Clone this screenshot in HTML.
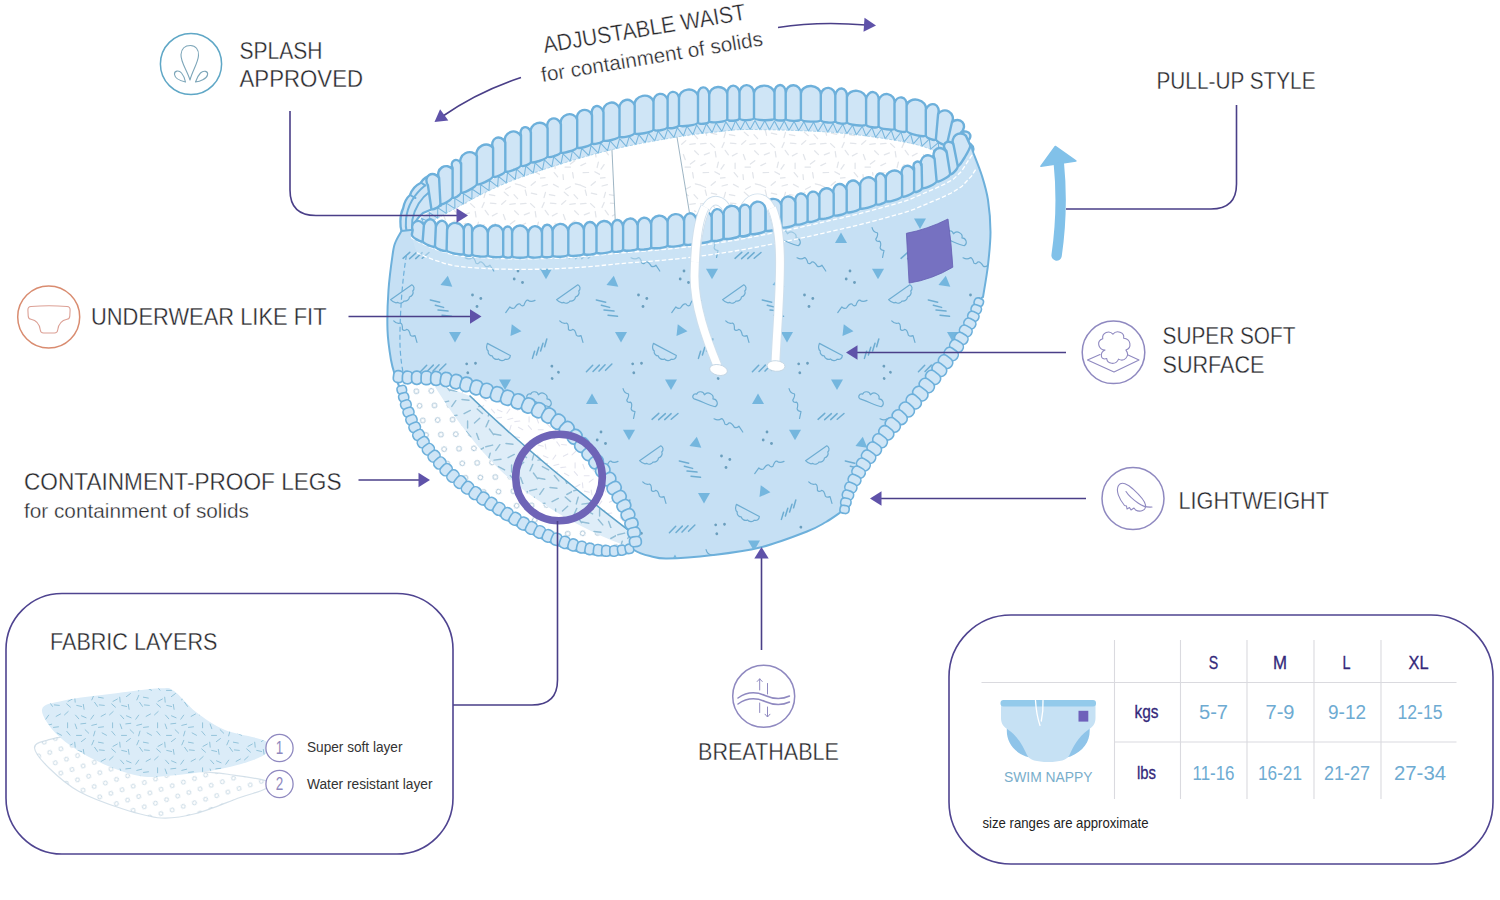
<!DOCTYPE html>
<html lang="en"><head><meta charset="utf-8"><title>Swim nappy features</title>
<style>
html,body{margin:0;padding:0;background:#fff}
body{width:1500px;height:900px;overflow:hidden}
svg{display:block}
text{font-family:"Liberation Sans",sans-serif}
</style></head><body>
<svg width="1500" height="900" viewBox="0 0 1500 900">
<defs>
<clipPath id="cb"><path d="M401.5,231C400.6,232.7 397.4,237.5 396,241C394.6,244.5 394.2,243.8 393,252C391.8,260.2 389.4,277 388.5,290C387.6,303 387.1,318.3 387.5,330C387.9,341.7 389.7,352.2 391,360C392.3,367.8 394.8,374.2 395.5,377C396.2,379.8 399.5,386.8 402,394C404.5,401.2 406.5,411.2 410,420C413.5,428.8 417.2,438.2 423,447C428.8,455.8 436,464.2 445,473C454,481.8 464.7,491 477,500C489.3,509 505.7,519.5 519,527C532.3,534.5 544,540.3 557,545C570,549.7 585.8,553.5 597,555C608.2,556.5 617.8,554.8 624,554C630.2,553.2 632.3,550.7 634,550C636.7,551.8 644.5,554.8 650,556C655.5,557.2 656.5,558.7 667,558.5C677.5,558.3 697.5,556.8 713,555C728.5,553.2 744.3,551.4 760,547.5C775.7,543.6 796,535.8 807,531.5C818,527.2 820.3,525.2 826,522C831.7,518.8 838.5,513.7 841,512C841.2,510 841.3,504.3 842.5,500C843.7,495.7 845.9,490.7 848,486C850.1,481.3 851.7,477.8 855,472C858.3,466.2 862.7,458.7 868,451C873.3,443.3 880.1,434.3 887,426C893.9,417.7 902,409.8 909.5,401C917,392.2 925.1,382.2 932,373.5C938.9,364.8 945.2,357.2 951,348.5C956.8,339.8 962.8,328.6 967,321C971.2,313.4 973.3,307 976,303C978.7,299 981.8,298 983,297C983.8,291.7 986.8,275.8 988,265C989.2,254.2 990.5,242.8 990.5,232C990.5,221.2 989.4,209.3 988,200C986.6,190.7 984.5,184 982,176C979.5,168 974.5,156 973,152L967,138C965,140.4 959.6,148 955.2,152.4C950.8,156.8 945.9,161 940.6,164.6C935.4,168.1 929.4,170.9 923.7,173.7C917.9,176.5 911.9,179.1 905.9,181.3C899.9,183.5 893.7,185.2 887.5,187C881.3,188.8 875.1,190.4 868.9,192.1C862.6,193.8 856.4,195.5 850.2,197.1C844,198.8 837.7,200.4 831.5,201.9C825.2,203.4 819,204.9 812.7,206.4C806.4,207.8 800.1,209.2 793.8,210.6C787.5,211.9 781.2,213.2 774.9,214.5C768.6,215.7 762.3,216.9 756,218.1C749.6,219.3 743.3,220.4 736.9,221.5C730.6,222.6 724.3,223.8 717.9,224.8C711.5,225.8 705.2,226.7 698.8,227.6C692.4,228.5 686,229.3 679.6,230C673.2,230.8 666.8,231.4 660.4,232C654,232.7 647.6,233.2 641.2,233.8C634.8,234.4 628.4,235 621.9,235.6C615.5,236.2 609.1,236.8 602.7,237.4C596.3,238 589.9,238.5 583.5,239C577,239.5 570.6,239.9 564.2,240.3C557.8,240.7 551.3,241.1 544.9,241.3C538.5,241.6 532,241.7 525.6,241.8C519.2,241.9 512.7,241.9 506.3,241.8C499.8,241.7 493.4,241.4 487,241.2C480.5,240.9 474.1,240.8 467.7,240.2C461.3,239.5 454.9,238.8 448.6,237.5C442.3,236.1 436.1,233.4 430.1,232.1C424.1,230.8 415.6,230.1 412.8,229.8Z"/></clipPath>
<pattern id="sp1" width="60" height="60" patternUnits="userSpaceOnUse"><path d="M7.4,4.7l-5.3,1.3M5.5,12.4l-1.5,5.3M4.2,22.5l-2.2,5M5.2,30.3l3.2,4.5M4.1,44.6l-3.1,4.5M5,57.6l-5.5,0.6M13.5,4.4l4.8,2.6M9.4,14.7l5.4,1M10.4,23.2l5.5,0.5M17.2,33.3l-4.8,2.6M15.1,43.1l0,5.5M14.2,52.6l3.5,4.2M30.4,6.7l-4.8,2.6M24.2,12.1l4.1,3.6M25.8,20.6l-4.1,3.7M23.4,34.5l1.9,5.2M25,47.1l5.5,0M23,54.7l0.5,5.5M35.2,3.8l5.4,1.3M34,14.6l3.6,4.1M35.3,23.7l-5.5,0.6M34.6,30.8l3.9,3.8M34.8,40.7l-4.4,3.3M32.6,52.6l0.9,5.4M40.6,5.3l5,2.2M45.2,10l1.4,5.3M46,23.4l-5.5,0.5M49.4,32.9l-5.1,1.9M45.7,43.2l-4.9,2.4M48.6,52.5l-5.5,0.2M55.4,1.7l-4.2,3.6M51.3,13.1l5.4,1.3M50.6,23.6l4,3.8M55.2,31.5l0.8,5.4M58.4,42.2l-1.3,5.3M54.8,51.8l4.9,2.6" fill="none" stroke="#e2e5ea" stroke-width="1.25" stroke-linecap="round"/></pattern>
<clipPath id="ci"><path d="M412.5,237L416.6,223.1L427.2,213L440.1,206L452.9,198.8L465.8,191.8L478.8,185L492.1,178.7L505.6,172.9L519.4,167.7L533.3,162.9L547.2,158.3L561.3,153.9L575.3,149.6L589.4,145.6L603.7,141.8L618,138.5L632.4,135.5L646.8,132.7L661.2,130L675.7,127.5L690.3,125.4L704.8,123.6L719.5,122.1L734.1,120.5L748.8,120L763.5,120.1L778.1,120.4L792.8,120.9L807.5,121.4L822.2,122.1L836.9,123.2L851.5,124.6L866.1,126.4L880.6,128.4L895.2,130.7L909.6,133.3L923.9,136.8L937.7,141.9L950.5,148.9L960,160L963,129L952.4,137.2L942.4,147.1L929.9,153.9L917.6,161.1L904.7,167L891,171L877.2,174.6L863.4,178.1L849.7,181.8L835.9,185.5L822.1,188.9L808.2,192.2L794.3,195.2L780.3,198L766.3,200.7L752.3,203L738.2,205.3L724.2,207.7L710.1,210L696,212L681.9,213.8L667.7,215.3L653.5,216.7L639.3,218.1L625.2,219.5L611,220.9L596.8,221.9L582.6,222.8L568.4,223.8L554.1,224.8L539.9,225.5L525.7,225.9L511.4,226L497.2,225.7L482.9,225.3L468.7,224.6L454.5,223.4L440.5,221.1L426.6,217.9L414,223Z"/></clipPath>
<polygon id="tr" points="0,-5.9 6,4.5 -6,4.5" fill="#74b6de"/>
<path id="wg" d="M-13,-4L13,-4C14.2,-1.5 13,1.2 10.2,1.6C9.8,4.2 6.6,5.6 4,4.6C2.6,6.8 -1.2,6.8 -2.8,4.8C-5,6 -8.2,4.6 -8.6,2.4C-10.8,2 -12.6,-1 -13,-4Z" fill="none" stroke="#6eadd2" stroke-width="1.2" stroke-linejoin="round"/>
<path id="cl" d="M-11.5,4.6C-14.6,4.4 -14.4,-0.6 -10.6,-0.8C-10.8,-4.6 -5.2,-5.8 -3.2,-2.8C-1.4,-7.6 6,-6.6 6.2,-1.8C10,-3.2 13.8,1.2 11,4.8C6,5.6 -6,4.2 -11.5,4.6Z" fill="none" stroke="#6eadd2" stroke-width="1.2" stroke-linejoin="round"/>
<path id="sq" d="M-15,6L-10.5,0.6Q-8.2,3 -6,2Q-2.4,-2.8 -0.2,-1.6Q1.4,1.4 3.6,0Q5.8,-5.4 7.8,-5Q10.5,-2.2 15,-4.2" fill="none" stroke="#6eadd2" stroke-width="1.2" stroke-linejoin="round" stroke-linecap="round"/>
<path id="hx" d="M-7.6,9.4L-5.4,2.2M-3.6,6L-1.2,-1.8M0.6,2L3,-5.8M4.6,-2.2L6.8,-10" fill="none" stroke="#6eadd2" stroke-width="1.5" stroke-linecap="round"/>
<path id="hz" d="M-13.5,3L-6,-2M-7,4.2L0.5,-0.8M-1,5L6.2,0M5.5,5.6L13,0.8" fill="none" stroke="#6eadd2" stroke-width="1.5" stroke-linecap="round"/>
<path id="hy" d="M-10.7,-8L-1.3,-5.8M-5.7,-2.8L2.6,-0.6M-3,2L7,3.1M1,7.2L10.5,8.3" fill="none" stroke="#6eadd2" stroke-width="1.5" stroke-linecap="round"/>
<g id="dt" fill="#6a9ebd"><circle cx="0.5" cy="-5.5" r="1.4"/><circle cx="-3.3" cy="2.5" r="1.4"/><circle cx="5" cy="6" r="1.4"/></g>
<clipPath id="cl1"><path d="M394,376L402,377.2L410,377.6L418.1,377.7L426.1,377.8L434.2,378.2L442.2,378.7L450.2,380.1L458,382L465.8,384.2L473.5,386.6L481.2,389L488.9,391.5L496.5,394L504.2,396.5L511.8,399.2L519.4,401.9L526.9,404.8L534.3,408L541.5,411.5L548.6,415.4L555.4,419.7L561.9,424.5L567.9,429.8L573.6,435.6L579,441.5L584.4,447.6L589.6,453.7L594.8,459.9L599.7,466.3L604.5,472.8L609,479.5L613.2,486.3L617.2,493.3L621.1,500.4L624.8,507.6L628.2,514.9L631.2,522.4L633.6,530.1L635,538L636,546L633,548L625.5,549.6L618,550.8L610.3,551L602.7,550.7L595.1,549.9L587.5,548.5L580.1,546.8L572.7,544.8L565.4,542.6L558.2,540.1L551.1,537.2L544.1,534.1L537.1,530.8L530.3,527.4L523.6,523.8L516.9,520L510.4,516L503.9,512L497.4,507.9L491,503.7L484.6,499.5L478.3,495.2L471.9,490.9L465.7,486.4L459.7,481.7L453.8,476.8L448.2,471.7L442.8,466.2L437.6,460.6L432.7,454.7L427.9,448.7L423.4,442.5L419.3,436.1L415.6,429.4L412.4,422.4L409.7,415.3L407.1,408.1L404.7,400.9L402.7,393.5L401,386Z"/></clipPath>
<pattern id="circ" width="23" height="19" patternUnits="userSpaceOnUse" patternTransform="rotate(38)"><g fill="none" stroke="#a3c0d4" stroke-width="0.95"><circle cx="5.5" cy="4.5" r="2.4"/><circle cx="17" cy="14" r="2.4"/></g></pattern>
<pattern id="sp2" width="44" height="44" patternUnits="userSpaceOnUse"><path d="M8.6,5.1l-6.8,1.7M6.2,13.2l-1.9,6.7M4.8,24.4l-2.8,6.4M5.4,33l4.1,5.7M15.8,4.7l-4,5.7M17,19.3l-7,0.8M14.4,26.6l6.2,3.3M9.9,38l6.9,1.3M22,3.5l7,0.7M30.3,14.4l-6.2,3.3M27.6,24.9l0,7M26.3,35.5l4.5,5.4M44.9,7.1l-6.1,3.4M37.2,13l5.3,4.6M39.7,22.3l-5.2,4.7M36.6,37.5l2.4,6.6" fill="none" stroke="#93bed6" stroke-width="1.45" stroke-linecap="round"/></pattern>
<pattern id="sp3" width="46" height="46" patternUnits="userSpaceOnUse"><path d="M6.8,4.3l-4.9,1.2M5.1,11.4l-1.4,4.8M3.9,20.8l-2,4.6M4.8,27.9l2.9,4.1M3.8,41.1l-2.9,4.1M13.8,7l-5,0.6M12.4,13.3l4.4,2.4M8.7,22.7l4.9,0.9M9.6,30.5l5,0.5M15.8,39.9l-4.4,2.4M23.1,2.9l0,5M22.3,11.6l3.2,3.8M27.9,24.5l-4.4,2.4M22.3,29.5l3.8,3.3M23.7,37.4l-3.7,3.4M30.8,4.2l1.7,4.7M32.2,15.7l5,0M30.4,22.8l0.5,5M32.4,31.1l4.9,1.1M31.3,41.1l3.3,3.7M41.6,3.4l-5,0.6M41,9.9l3.6,3.5M41.2,19.1l-4,3M39.2,30.1l0.8,4.9M37.4,41.7l4.6,2" fill="none" stroke="#e3e4ee" stroke-width="1.1" stroke-linecap="round"/></pattern>
<pattern id="circ2" width="18" height="15" patternUnits="userSpaceOnUse" patternTransform="rotate(22)"><g fill="none" stroke="#c3d6e2" stroke-width="0.9"><circle cx="4" cy="4" r="2"/><circle cx="13" cy="11.5" r="2"/></g></pattern>
<pattern id="sp4" width="45" height="45" patternUnits="userSpaceOnUse"><path d="M6.7,4.2l-4.9,1.2M5,11.1l-1.4,4.8M3.8,20.3l-2,4.6M4.6,27.3l2.9,4.1M3.7,40.1l-2.9,4.1M13.5,6.8l-5,0.6M12.1,12.9l4.4,2.4M8.4,22.2l4.9,0.9M9.3,29.9l5,0.5M15.5,39l-4.4,2.4M22.6,2.8l0,5M21.8,11.4l3.2,3.8M27.4,24l-4.4,2.4M21.7,28.9l3.8,3.3M23.2,36.5l-3.7,3.4M30.1,4l1.7,4.7M31.5,15.4l5,0M29.7,22.2l0.5,5M31.7,30.4l4.9,1.1M30.5,40.1l3.3,3.7M40.8,3.3l-5,0.6M40.1,9.7l3.6,3.5M40.4,18.6l-4,3M38.3,29.4l0.8,4.9M36.5,40.8l4.6,2" fill="none" stroke="#93c3da" stroke-width="1.0" stroke-linecap="round"/></pattern>
</defs>
<g clip-path="url(#ci)">
<rect x="400" y="110" width="580" height="125" fill="url(#sp1)"/>
<path d="M611.5,140L615.5,226L690,216L675.5,128Z" fill="#fff"/>
<path d="M611.5,140L615.5,226M675.5,128L690,216" fill="none" stroke="#93adbd" stroke-width="0.9"/>
</g>
<path d="M415.6,225.8L418.1,221.7L421.3,218.1L425,215.1L429.1,212.5L433.4,210.1L437.7,207.8L442,205.5L446.3,203.1L450.5,200.7L454.8,198.4L459.1,196L463.4,193.6L467.7,191.3L472,189L476.3,186.8L480.7,184.6L485.1,182.4L489.5,180.4L494,178.4L498.4,176.4L503,174.5L507.5,172.7L512,171L516.6,169.2L521.2,167.6L525.8,166L530.4,164.4L535.1,162.8L539.7,161.3L544.4,159.8L549,158.3L553.7,156.8L558.3,155.3L563,153.8L567.7,152.4L572.4,151L577,149.6L581.7,148.3L586.4,146.9L591.1,145.6L595.9,144.4L600.6,143.1L605.3,141.9L610.1,140.8L614.8,139.7L619.6,138.6L624.4,137.6L629.2,136.6L634,135.6L638.8,134.7L643.6,133.8L648.4,132.9L653.2,132L658,131.1L662.8,130.3L667.6,129.4L672.4,128.6L677.3,127.8L682.1,127L686.9,126.3L691.8,125.7L696.6,125L701.5,124.5L706.3,123.9L711.2,123.4L716,122.9L720.9,122.4L725.8,121.9L730.6,121.3L735.5,120.9L740.3,120.6L745.2,120.5L750.1,120.5L755,120.5L759.9,120.6L764.8,120.7L769.7,120.7L774.5,120.9L779.4,121L784.3,121.1L789.2,121.2L794.1,121.4L799,121.6L803.9,121.8L808.7,122L813.6,122.2L818.5,122.4L823.4,122.7L828.3,123L833.1,123.4L838,123.8L842.9,124.2L847.7,124.7L852.6,125.2L857.4,125.8L862.3,126.4L867.1,127L872,127.7L876.8,128.3L881.7,129L886.5,129.8L891.3,130.5L896.2,131.3L901,132.2L905.8,133L910.6,134L915.3,135L920,136.2L924.7,137.6L929.3,139.1L933.9,140.9L938.4,142.7L942.8,144.7L947.1,147.1L951,149.9L954.5,153.2L947.6,159L945.4,156.9L942.3,154.7L938.8,152.8L934.9,151L930.6,149.2L926.3,147.6L922,146.2L917.7,144.9L913.3,143.8L908.7,142.8L904.1,141.9L899.4,141L894.7,140.2L889.9,139.4L885.1,138.7L880.4,137.9L875.6,137.2L870.8,136.6L866,135.9L861.2,135.3L856.4,134.7L851.6,134.2L846.8,133.6L842,133.2L837.2,132.7L832.5,132.3L827.7,132L822.8,131.7L818,131.4L813.2,131.2L808.4,130.9L803.5,130.8L798.7,130.6L793.8,130.4L788.9,130.2L784.1,130.1L779.2,130L774.3,129.8L769.5,129.7L764.6,129.7L759.8,129.6L754.9,129.5L750.1,129.5L745.3,129.5L740.6,129.6L736.1,129.8L731.6,130.2L726.8,130.8L721.9,131.4L717,131.9L712.1,132.4L707.3,132.9L702.5,133.4L697.7,134L692.9,134.6L688.2,135.2L683.4,135.9L678.7,136.7L673.9,137.5L669.2,138.3L664.4,139.1L659.6,140L654.8,140.8L650,141.7L645.2,142.6L640.5,143.5L635.7,144.5L631,145.4L626.3,146.4L621.5,147.4L616.8,148.5L612.1,149.6L607.5,150.7L602.8,151.8L598.2,153.1L593.5,154.3L588.9,155.6L584.2,156.9L579.6,158.3L574.9,159.6L570.3,161L565.6,162.4L561,163.9L556.4,165.3L551.8,166.8L547.2,168.3L542.5,169.8L537.9,171.4L533.3,172.9L528.8,174.5L524.2,176.1L519.7,177.7L515.2,179.4L510.8,181.1L506.4,182.9L502,184.7L497.6,186.6L493.3,188.6L489,190.6L484.7,192.6L480.4,194.8L476.2,197L471.9,199.3L467.7,201.6L463.4,203.9L459.2,206.2L454.9,208.6L450.6,211L446.3,213.4L442,215.7L437.7,218.1L433.6,220.3L430.3,222.4L427.5,224.7L425.4,227L423.7,229.8Z" fill="#cfe5f6"/>
<path d="M415.6,225.8L425.4,227L421.3,218.1L430.3,222.4L429.1,212.5L437.7,218.1L437.7,207.8L446.3,213.4L446.3,203.1L454.9,208.6L454.8,198.4L463.4,203.9L463.4,193.6L471.9,199.3L472,189L480.4,194.8L480.7,184.6L489,190.6L489.5,180.4L497.6,186.6L498.4,176.4L506.4,182.9L507.5,172.7L515.2,179.4L516.6,169.2L524.2,176.1L525.8,166L533.3,172.9L535.1,162.8L542.5,169.8L544.4,159.8L551.8,166.8L553.7,156.8L561,163.9L563,153.8L570.3,161L572.4,151L579.6,158.3L581.7,148.3L588.9,155.6L591.1,145.6L598.2,153.1L600.6,143.1L607.5,150.7L610.1,140.8L616.8,148.5L619.6,138.6L626.3,146.4L629.2,136.6L635.7,144.5L638.8,134.7L645.2,142.6L648.4,132.9L654.8,140.8L658,131.1L664.4,139.1L667.6,129.4L673.9,137.5L677.3,127.8L683.4,135.9L686.9,126.3L692.9,134.6L696.6,125L702.5,133.4L706.3,123.9L712.1,132.4L716,122.9L721.9,131.4L725.8,121.9L731.6,130.2L735.5,120.9L740.6,129.6L745.2,120.5L750.1,129.5L755,120.5L759.8,129.6L764.8,120.7L769.5,129.7L774.5,120.9L779.2,130L784.3,121.1L788.9,130.2L794.1,121.4L798.7,130.6L803.9,121.8L808.4,130.9L813.6,122.2L818,131.4L823.4,122.7L827.7,132L833.1,123.4L837.2,132.7L842.9,124.2L846.8,133.6L852.6,125.2L856.4,134.7L862.3,126.4L866,135.9L872,127.7L875.6,137.2L881.7,129L885.1,138.7L891.3,130.5L894.7,140.2L901,132.2L904.1,141.9L910.6,134L913.3,143.8L920,136.2L922,146.2L929.3,139.1L930.6,149.2L938.4,142.7L938.8,152.8L947.1,147.1L945.4,156.9L954.5,153.2" fill="none" stroke="#78b6dd" stroke-width="1.05" stroke-linejoin="round"/>
<path d="M423.7,229.8L425.4,227L427.5,224.7L430.3,222.4L433.6,220.3L437.7,218.1L442,215.7L446.3,213.4L450.6,211L454.9,208.6L459.2,206.2L463.4,203.9L467.7,201.6L471.9,199.3L476.2,197L480.4,194.8L484.7,192.6L489,190.6L493.3,188.6L497.6,186.6L502,184.7L506.4,182.9L510.8,181.1L515.2,179.4L519.7,177.7L524.2,176.1L528.8,174.5L533.3,172.9L537.9,171.4L542.5,169.8L547.2,168.3L551.8,166.8L556.4,165.3L561,163.9L565.6,162.4L570.3,161L574.9,159.6L579.6,158.3L584.2,156.9L588.9,155.6L593.5,154.3L598.2,153.1L602.8,151.8L607.5,150.7L612.1,149.6L616.8,148.5L621.5,147.4L626.3,146.4L631,145.4L635.7,144.5L640.5,143.5L645.2,142.6L650,141.7L654.8,140.8L659.6,140L664.4,139.1L669.2,138.3L673.9,137.5L678.7,136.7L683.4,135.9L688.2,135.2L692.9,134.6L697.7,134L702.5,133.4L707.3,132.9L712.1,132.4L717,131.9L721.9,131.4L726.8,130.8L731.6,130.2L736.1,129.8L740.6,129.6L745.3,129.5L750.1,129.5L754.9,129.5L759.8,129.6L764.6,129.7L769.5,129.7L774.3,129.8L779.2,130L784.1,130.1L788.9,130.2L793.8,130.4L798.7,130.6L803.5,130.8L808.4,130.9L813.2,131.2L818,131.4L822.8,131.7L827.7,132L832.5,132.3L837.2,132.7L842,133.2L846.8,133.6L851.6,134.2L856.4,134.7L861.2,135.3L866,135.9L870.8,136.6L875.6,137.2L880.4,137.9L885.1,138.7L889.9,139.4L894.7,140.2L899.4,141L904.1,141.9L908.7,142.8L913.3,143.8L917.7,144.9L922,146.2L926.3,147.6L930.6,149.2L934.9,151L938.8,152.8L942.3,154.7L945.4,156.9L947.6,159" fill="none" stroke="#9ccbe8" stroke-width="0.8" stroke-dasharray="3 1.5"/>
<path d="M432,175Q424.5,176.5 420.5,183Q413,186.5 410,195Q404.8,199.5 403.2,208Q400.3,214 400.4,221.5Q400.2,227.5 401.8,232L413,238C411,229 415,220 423,213L441,205.5Z" fill="#cfe5f6" stroke="#6db0db" stroke-width="2.3" stroke-linejoin="round"/>
<path d="M425,185.5C414.5,194 407.5,206 406,219C405.4,225 406,230 407,234M430.5,191C421,198 414.5,208.5 412.3,220C411.6,226 412,231.5 413,237M421,182.5C423,184 424.5,185 425.5,185.5M410.3,195C412.5,196.5 414,197.5 415.5,198" fill="none" stroke="#6db0db" stroke-width="2" stroke-linecap="round"/>
<path d="M436.1,208.1Q431.6,210.5 431.3,208.4L427.9,185.2A6.7 7.9 -33.5 0 1 439.1,177.8L440.4,203.5Q440.6,205.7 436.1,208.1M446.6,202.3Q440.6,205.7 440.4,203.5L439.1,177.8A8 7.9 -31.9 0 1 452.6,169.3L452.6,196.8Q452.6,199 446.6,202.3M456.9,196.7Q452.6,199 452.6,196.8L452.6,167.9A4.9 6.4 -29.5 0 1 461.1,163.1L461.1,192.1Q461.1,194.3 456.9,196.7M469,190.1Q461.1,194.3 461.1,192.1L461.1,164.5A8.9 7.9 -28 0 1 476.9,156.1L476.9,183.7Q476.9,185.9 469,190.1M485,182.1Q476.9,185.9 476.9,183.7L476.9,156.1A9.1 7.9 -26.6 0 1 493.1,148L493.1,176Q493.1,178.2 485,182.1M499.2,175.6Q493.1,178.2 493.1,176L493.1,148A6.7 7.9 -24.5 0 1 505.3,142.4L505.3,170.8Q505.3,173 499.2,175.6M513.2,170.1Q505.3,173 505.3,170.8L505.3,142.4A8.4 7.9 -21.1 0 1 521,136.4L521,164.9Q521,167.1 513.2,170.1M525.9,165.4Q521,167.1 521,164.9L521,135.4A5.2 6.8 -18 0 1 530.9,132.2L530.9,161.5Q530.9,163.7 525.9,165.4M539.2,161Q530.9,163.7 530.9,161.5L530.9,133.2A8.7 7.9 -16.4 0 1 547.6,128.3L547.6,156Q547.6,158.2 539.2,161M554.2,156.1Q547.6,158.2 547.6,156L547.6,128.3A6.9 7.9 -16.5 0 1 560.9,124.3L560.9,151.8Q560.9,154 554.2,156.1M569,151.5Q560.9,154 560.9,151.8L560.9,124.3A8.5 7.9 -16.5 0 1 577.2,119.5L577.2,146.9Q577.2,149.1 569,151.5M584.6,147Q577.2,149.1 577.2,146.9L577.2,119.5A7.7 7.9 -15.7 0 1 592,115.3L592,142.7Q592,144.9 584.6,147M597.7,143.4Q592,144.9 592,142.7L592,115.2A5.9 7.7 -14.5 0 1 603.5,112.2L603.5,139.7Q603.5,141.9 597.7,143.4M611.5,140Q603.5,141.9 603.5,139.7L603.5,112.4A8.2 7.9 -13.3 0 1 619.5,108.6L619.5,136Q619.5,138.2 611.5,140M627.1,136.6Q619.5,138.2 619.5,136L619.5,108.6A7.8 7.9 -12 0 1 634.7,105.4L634.7,132.8Q634.7,135 627.1,136.6M644.1,133.2Q634.7,135 634.7,132.8L634.7,105.4A9.5 7.9 -10.5 0 1 653.5,101.9L653.5,129.2Q653.5,131.4 644.1,133.2M660.6,130.2Q653.5,131.4 653.5,129.2L653.5,101.9A7.2 7.9 -9.2 0 1 667.6,99.6L667.6,126.7Q667.6,128.9 660.6,130.2M673.3,128Q667.6,128.9 667.6,126.7L667.6,99.2A5.8 7.5 -8.2 0 1 679,97.6L679,124.8Q679,127 673.3,128M688.5,125.7Q679,127 679,124.8L679,97.9A9.6 7.9 -6.8 0 1 698,95.7L698,122.2Q698,124.4 688.5,125.7M703.6,123.7Q698,124.4 698,122.2L698,95.1A5.6 7.3 -4.9 0 1 709.2,94.2L709.2,120.9Q709.2,123.1 703.6,123.7M718.2,122.1Q709.2,123.1 709.2,120.9L709.2,94.7A9.1 7.9 -3.2 0 1 727.3,93.7L727.3,119Q727.3,121.2 718.2,122.1M733.4,120.7Q727.3,121.2 727.3,119L727.3,93.7A6.1 7.9 -2 0 1 739.5,93.3L739.5,117.9Q739.5,120.1 733.4,120.7M746.7,120.1Q739.5,120.1 739.5,117.9L739.5,93.3A7.2 7.9 -1.4 0 1 754,92.9L754,117.8Q754,120 746.7,120.1M764.2,120.2Q754,120 754,117.8L754,92.9A10.3 7.9 -0.5 0 1 774.5,92.7L774.5,118.2Q774.5,120.4 764.2,120.2M780.1,120.5Q774.5,120.4 774.5,118.2L774.5,92.2A5.6 7.3 0.7 0 1 785.7,92.3L785.7,118.4Q785.7,120.6 780.1,120.5M793.3,120.9Q785.7,120.6 785.7,118.4L785.7,92.9A7.6 7.9 1.8 0 1 800.9,93.4L800.9,118.9Q800.9,121.1 793.3,120.9M810.8,121.6Q800.9,121.1 800.9,118.9L800.9,93.4A9.9 7.9 3.4 0 1 820.8,94.5L820.8,119.8Q820.8,122 810.8,121.6M828,122.5Q820.8,122 820.8,119.8L820.8,94.5A7.3 7.9 4.8 0 1 835.3,95.8L835.3,120.8Q835.3,123 828,122.5M841.1,123.6Q835.3,123 835.3,120.8L835.3,95.5A5.8 7.6 5.6 0 1 846.9,96.6L846.9,121.9Q846.9,124.1 841.1,123.6M856.5,125.2Q846.9,124.1 846.9,121.9L846.9,96.9A9.7 7.9 6.6 0 1 866.1,99.1L866.1,124.2Q866.1,126.4 856.5,125.2M872.3,127.2Q866.1,126.4 866.1,124.2L866.1,99.1A6.3 7.9 7.6 0 1 878.6,100.8L878.6,125.9Q878.6,128.1 872.3,127.2M886.6,129.3Q878.6,128.1 878.6,125.9L878.6,100.8A8 7.9 8.7 0 1 894.5,103.2L894.5,128.3Q894.5,130.5 886.6,129.3M900.6,131.6Q894.5,130.5 894.5,128.3L894.5,103.2A6.2 7.9 10 0 1 906.6,105.4L906.6,130.5Q906.6,132.7 900.6,131.6M916.2,135.1Q906.6,132.7 906.6,130.5L906.6,105.4A9.8 7.9 12.8 0 1 925.8,109.7L925.8,135.2Q925.8,137.4 916.2,135.1M930.8,139.2Q925.8,137.4 925.8,135.2L925.8,109.7A6.5 7.9 19.5 0 1 938.1,114.1L935.9,138.9Q935.7,141 930.8,139.2M941.1,143.6Q935.7,141 935.9,138.9L938.1,114.1A8 7.9 29.6 0 1 952,122L947,144Q946.5,146.2 941.1,143.6M950.2,148.9Q946.5,146.2 947,144L952,122A6.9 7.9 49.9 0 1 960.9,132.6L954.5,149.6Q953.8,151.7 950.2,148.9M955.6,154Q953.8,151.7 954.5,149.6L961,132.3A5.4 7.5 67.3 0 1 965.2,142.3L958.6,154.5Q957.5,156.4 955.6,154M958.8,158.2Q957.5,156.4 958.6,154.5L965,142.5A6.8 7.9 86.9 0 1 965.8,156.2L961.8,158.8Q960,160 958.8,158.2" fill="#cfe5f6" stroke="#6db0db" stroke-width="2.4" stroke-linejoin="round" stroke-linecap="round"/>
<path d="M401.5,231C400.6,232.7 397.4,237.5 396,241C394.6,244.5 394.2,243.8 393,252C391.8,260.2 389.4,277 388.5,290C387.6,303 387.1,318.3 387.5,330C387.9,341.7 389.7,352.2 391,360C392.3,367.8 394.8,374.2 395.5,377C396.2,379.8 399.5,386.8 402,394C404.5,401.2 406.5,411.2 410,420C413.5,428.8 417.2,438.2 423,447C428.8,455.8 436,464.2 445,473C454,481.8 464.7,491 477,500C489.3,509 505.7,519.5 519,527C532.3,534.5 544,540.3 557,545C570,549.7 585.8,553.5 597,555C608.2,556.5 617.8,554.8 624,554C630.2,553.2 632.3,550.7 634,550C636.7,551.8 644.5,554.8 650,556C655.5,557.2 656.5,558.7 667,558.5C677.5,558.3 697.5,556.8 713,555C728.5,553.2 744.3,551.4 760,547.5C775.7,543.6 796,535.8 807,531.5C818,527.2 820.3,525.2 826,522C831.7,518.8 838.5,513.7 841,512C841.2,510 841.3,504.3 842.5,500C843.7,495.7 845.9,490.7 848,486C850.1,481.3 851.7,477.8 855,472C858.3,466.2 862.7,458.7 868,451C873.3,443.3 880.1,434.3 887,426C893.9,417.7 902,409.8 909.5,401C917,392.2 925.1,382.2 932,373.5C938.9,364.8 945.2,357.2 951,348.5C956.8,339.8 962.8,328.6 967,321C971.2,313.4 973.3,307 976,303C978.7,299 981.8,298 983,297C983.8,291.7 986.8,275.8 988,265C989.2,254.2 990.5,242.8 990.5,232C990.5,221.2 989.4,209.3 988,200C986.6,190.7 984.5,184 982,176C979.5,168 974.5,156 973,152L967,138C965,140.4 959.6,148 955.2,152.4C950.8,156.8 945.9,161 940.6,164.6C935.4,168.1 929.4,170.9 923.7,173.7C917.9,176.5 911.9,179.1 905.9,181.3C899.9,183.5 893.7,185.2 887.5,187C881.3,188.8 875.1,190.4 868.9,192.1C862.6,193.8 856.4,195.5 850.2,197.1C844,198.8 837.7,200.4 831.5,201.9C825.2,203.4 819,204.9 812.7,206.4C806.4,207.8 800.1,209.2 793.8,210.6C787.5,211.9 781.2,213.2 774.9,214.5C768.6,215.7 762.3,216.9 756,218.1C749.6,219.3 743.3,220.4 736.9,221.5C730.6,222.6 724.3,223.8 717.9,224.8C711.5,225.8 705.2,226.7 698.8,227.6C692.4,228.5 686,229.3 679.6,230C673.2,230.8 666.8,231.4 660.4,232C654,232.7 647.6,233.2 641.2,233.8C634.8,234.4 628.4,235 621.9,235.6C615.5,236.2 609.1,236.8 602.7,237.4C596.3,238 589.9,238.5 583.5,239C577,239.5 570.6,239.9 564.2,240.3C557.8,240.7 551.3,241.1 544.9,241.3C538.5,241.6 532,241.7 525.6,241.8C519.2,241.9 512.7,241.9 506.3,241.8C499.8,241.7 493.4,241.4 487,241.2C480.5,240.9 474.1,240.8 467.7,240.2C461.3,239.5 454.9,238.8 448.6,237.5C442.3,236.1 436.1,233.4 430.1,232.1C424.1,230.8 415.6,230.1 412.8,229.8Z" fill="#c6e0f4" stroke="#6db0db" stroke-width="2" stroke-linejoin="round"/>
<g clip-path="url(#cb)">
<use href="#tr" transform="translate(422,223) rotate(180)"/>
<use href="#tr" transform="translate(509,238.5)"/>
<use href="#cl" transform="translate(457.5,237.5) rotate(20)"/>
<use href="#sq" transform="translate(380,242) rotate(52) scale(-1,1)"/>
<use href="#tr" transform="translate(588,223) rotate(180)"/>
<use href="#tr" transform="translate(675,238.5)"/>
<use href="#cl" transform="translate(623.5,237.5) rotate(20)"/>
<use href="#sq" transform="translate(546,242) rotate(52) scale(-1,1)"/>
<use href="#tr" transform="translate(754,223) rotate(180)"/>
<use href="#tr" transform="translate(841,238.5)"/>
<use href="#cl" transform="translate(789.5,237.5) rotate(20)"/>
<use href="#sq" transform="translate(712,242) rotate(52) scale(-1,1)"/>
<use href="#tr" transform="translate(920,223) rotate(180)"/>
<use href="#cl" transform="translate(955.5,237.5) rotate(20)"/>
<use href="#sq" transform="translate(878,242) rotate(52) scale(-1,1)"/>
<use href="#tr" transform="translate(380,273.3) rotate(180)"/>
<use href="#tr" transform="translate(426,399.5)"/>
<use href="#wg" transform="translate(403.5,295.5) rotate(-35)"/>
<use href="#sq" transform="translate(405.7,330.8) rotate(24) scale(-1,1)"/>
<use href="#hz" transform="translate(416,253.5) rotate(-8)"/>
<use href="#dt" transform="translate(388.5,373.5) rotate(200)"/>
<use href="#hz" transform="translate(433,366) rotate(-12)"/>
<use href="#tr" transform="translate(447,281.5) rotate(8)"/>
<use href="#tr" transform="translate(546,273.3) rotate(180)"/>
<use href="#tr" transform="translate(455,336.5) rotate(180)"/>
<use href="#tr" transform="translate(515.6,330.6) rotate(96)"/>
<use href="#tr" transform="translate(505,384) rotate(180)"/>
<use href="#tr" transform="translate(592,399.5)"/>
<use href="#wg" transform="translate(569.5,295.5) rotate(-35)"/>
<use href="#wg" transform="translate(497,353) rotate(28)"/>
<use href="#cl" transform="translate(540.5,398.5) rotate(20)"/>
<use href="#sq" transform="translate(479.5,263.5) rotate(6) scale(-1,1)"/>
<use href="#sq" transform="translate(520.3,305.6) rotate(-4)"/>
<use href="#sq" transform="translate(571.7,330.8) rotate(24) scale(-1,1)"/>
<use href="#sq" transform="translate(463,403) rotate(52) scale(-1,1)"/>
<use href="#hy" transform="translate(441,308)"/>
<use href="#hx" transform="translate(540,349)"/>
<use href="#hz" transform="translate(582,253.5) rotate(-8)"/>
<use href="#dt" transform="translate(517.5,276.5)"/>
<use href="#dt" transform="translate(477.5,301) rotate(180)"/>
<use href="#dt" transform="translate(470.5,365.5) rotate(60)"/>
<use href="#dt" transform="translate(554.5,373.5) rotate(200)"/>
<use href="#hz" transform="translate(599,366) rotate(-12)"/>
<use href="#tr" transform="translate(613,281.5) rotate(8)"/>
<use href="#tr" transform="translate(712,273.3) rotate(180)"/>
<use href="#tr" transform="translate(621,336.5) rotate(180)"/>
<use href="#tr" transform="translate(681.6,330.6) rotate(96)"/>
<use href="#tr" transform="translate(671,384) rotate(180)"/>
<use href="#tr" transform="translate(758,399.5)"/>
<use href="#wg" transform="translate(735.5,295.5) rotate(-35)"/>
<use href="#wg" transform="translate(663,353) rotate(28)"/>
<use href="#cl" transform="translate(706.5,398.5) rotate(20)"/>
<use href="#sq" transform="translate(645.5,263.5) rotate(6) scale(-1,1)"/>
<use href="#sq" transform="translate(686.3,305.6) rotate(-4)"/>
<use href="#sq" transform="translate(737.7,330.8) rotate(24) scale(-1,1)"/>
<use href="#sq" transform="translate(629,403) rotate(52) scale(-1,1)"/>
<use href="#hy" transform="translate(607,308)"/>
<use href="#hx" transform="translate(706,349)"/>
<use href="#hz" transform="translate(748,253.5) rotate(-8)"/>
<use href="#dt" transform="translate(683.5,276.5)"/>
<use href="#dt" transform="translate(643.5,301) rotate(180)"/>
<use href="#dt" transform="translate(636.5,365.5) rotate(60)"/>
<use href="#dt" transform="translate(720.5,373.5) rotate(200)"/>
<use href="#hz" transform="translate(765,366) rotate(-12)"/>
<use href="#tr" transform="translate(779,281.5) rotate(8)"/>
<use href="#tr" transform="translate(878,273.3) rotate(180)"/>
<use href="#tr" transform="translate(787,336.5) rotate(180)"/>
<use href="#tr" transform="translate(847.6,330.6) rotate(96)"/>
<use href="#tr" transform="translate(837,384) rotate(180)"/>
<use href="#tr" transform="translate(924,399.5)"/>
<use href="#wg" transform="translate(901.5,295.5) rotate(-35)"/>
<use href="#wg" transform="translate(829,353) rotate(28)"/>
<use href="#cl" transform="translate(872.5,398.5) rotate(20)"/>
<use href="#sq" transform="translate(811.5,263.5) rotate(6) scale(-1,1)"/>
<use href="#sq" transform="translate(852.3,305.6) rotate(-4)"/>
<use href="#sq" transform="translate(903.7,330.8) rotate(24) scale(-1,1)"/>
<use href="#sq" transform="translate(795,403) rotate(52) scale(-1,1)"/>
<use href="#hy" transform="translate(773,308)"/>
<use href="#hx" transform="translate(872,349)"/>
<use href="#hz" transform="translate(914,253.5) rotate(-8)"/>
<use href="#dt" transform="translate(849.5,276.5)"/>
<use href="#dt" transform="translate(809.5,301) rotate(180)"/>
<use href="#dt" transform="translate(802.5,365.5) rotate(60)"/>
<use href="#dt" transform="translate(886.5,373.5) rotate(200)"/>
<use href="#hz" transform="translate(931,366) rotate(-12)"/>
<use href="#tr" transform="translate(945,281.5) rotate(8)"/>
<use href="#tr" transform="translate(953,336.5) rotate(180)"/>
<use href="#wg" transform="translate(995,353) rotate(28)"/>
<use href="#sq" transform="translate(977.5,263.5) rotate(6) scale(-1,1)"/>
<use href="#sq" transform="translate(961,403) rotate(52) scale(-1,1)"/>
<use href="#hy" transform="translate(939,308)"/>
<use href="#dt" transform="translate(975.5,301) rotate(180)"/>
<use href="#dt" transform="translate(968.5,365.5) rotate(60)"/>
<use href="#tr" transform="translate(463,434.3) rotate(180)"/>
<use href="#tr" transform="translate(432.6,491.6) rotate(96)"/>
<use href="#tr" transform="translate(422,545) rotate(180)"/>
<use href="#tr" transform="translate(509,560.5)"/>
<use href="#wg" transform="translate(486.5,456.5) rotate(-35)"/>
<use href="#wg" transform="translate(414,514) rotate(28)"/>
<use href="#cl" transform="translate(457.5,559.5) rotate(20)"/>
<use href="#sq" transform="translate(396.5,424.5) rotate(6) scale(-1,1)"/>
<use href="#sq" transform="translate(437.3,466.6) rotate(-4)"/>
<use href="#sq" transform="translate(488.7,491.8) rotate(24) scale(-1,1)"/>
<use href="#sq" transform="translate(380,564) rotate(52) scale(-1,1)"/>
<use href="#hx" transform="translate(457,510)"/>
<use href="#hz" transform="translate(499,414.5) rotate(-8)"/>
<use href="#dt" transform="translate(434.5,437.5)"/>
<use href="#dt" transform="translate(394.5,462) rotate(180)"/>
<use href="#dt" transform="translate(387.5,526.5) rotate(60)"/>
<use href="#dt" transform="translate(471.5,534.5) rotate(200)"/>
<use href="#hz" transform="translate(516,527) rotate(-12)"/>
<use href="#tr" transform="translate(530,442.5) rotate(8)"/>
<use href="#tr" transform="translate(629,434.3) rotate(180)"/>
<use href="#tr" transform="translate(538,497.5) rotate(180)"/>
<use href="#tr" transform="translate(598.6,491.6) rotate(96)"/>
<use href="#tr" transform="translate(588,545) rotate(180)"/>
<use href="#tr" transform="translate(675,560.5)"/>
<use href="#wg" transform="translate(652.5,456.5) rotate(-35)"/>
<use href="#wg" transform="translate(580,514) rotate(28)"/>
<use href="#cl" transform="translate(623.5,559.5) rotate(20)"/>
<use href="#sq" transform="translate(562.5,424.5) rotate(6) scale(-1,1)"/>
<use href="#sq" transform="translate(603.3,466.6) rotate(-4)"/>
<use href="#sq" transform="translate(654.7,491.8) rotate(24) scale(-1,1)"/>
<use href="#sq" transform="translate(546,564) rotate(52) scale(-1,1)"/>
<use href="#hy" transform="translate(524,469)"/>
<use href="#hx" transform="translate(623,510)"/>
<use href="#hz" transform="translate(665,414.5) rotate(-8)"/>
<use href="#dt" transform="translate(600.5,437.5)"/>
<use href="#dt" transform="translate(560.5,462) rotate(180)"/>
<use href="#dt" transform="translate(553.5,526.5) rotate(60)"/>
<use href="#dt" transform="translate(637.5,534.5) rotate(200)"/>
<use href="#hz" transform="translate(682,527) rotate(-12)"/>
<use href="#tr" transform="translate(696,442.5) rotate(8)"/>
<use href="#tr" transform="translate(795,434.3) rotate(180)"/>
<use href="#tr" transform="translate(704,497.5) rotate(180)"/>
<use href="#tr" transform="translate(764.6,491.6) rotate(96)"/>
<use href="#tr" transform="translate(754,545) rotate(180)"/>
<use href="#tr" transform="translate(841,560.5)"/>
<use href="#wg" transform="translate(818.5,456.5) rotate(-35)"/>
<use href="#wg" transform="translate(746,514) rotate(28)"/>
<use href="#cl" transform="translate(789.5,559.5) rotate(20)"/>
<use href="#sq" transform="translate(728.5,424.5) rotate(6) scale(-1,1)"/>
<use href="#sq" transform="translate(769.3,466.6) rotate(-4)"/>
<use href="#sq" transform="translate(820.7,491.8) rotate(24) scale(-1,1)"/>
<use href="#sq" transform="translate(712,564) rotate(52) scale(-1,1)"/>
<use href="#hy" transform="translate(690,469)"/>
<use href="#hx" transform="translate(789,510)"/>
<use href="#hz" transform="translate(831,414.5) rotate(-8)"/>
<use href="#dt" transform="translate(766.5,437.5)"/>
<use href="#dt" transform="translate(726.5,462) rotate(180)"/>
<use href="#dt" transform="translate(719.5,526.5) rotate(60)"/>
<use href="#dt" transform="translate(803.5,534.5) rotate(200)"/>
<use href="#hz" transform="translate(848,527) rotate(-12)"/>
<use href="#tr" transform="translate(862,442.5) rotate(8)"/>
<use href="#tr" transform="translate(961,434.3) rotate(180)"/>
<use href="#tr" transform="translate(870,497.5) rotate(180)"/>
<use href="#tr" transform="translate(930.6,491.6) rotate(96)"/>
<use href="#tr" transform="translate(920,545) rotate(180)"/>
<use href="#wg" transform="translate(984.5,456.5) rotate(-35)"/>
<use href="#wg" transform="translate(912,514) rotate(28)"/>
<use href="#cl" transform="translate(955.5,559.5) rotate(20)"/>
<use href="#sq" transform="translate(894.5,424.5) rotate(6) scale(-1,1)"/>
<use href="#sq" transform="translate(935.3,466.6) rotate(-4)"/>
<use href="#sq" transform="translate(986.7,491.8) rotate(24) scale(-1,1)"/>
<use href="#sq" transform="translate(878,564) rotate(52) scale(-1,1)"/>
<use href="#hy" transform="translate(856,469)"/>
<use href="#hx" transform="translate(955,510)"/>
<use href="#hz" transform="translate(997,414.5) rotate(-8)"/>
<use href="#dt" transform="translate(932.5,437.5)"/>
<use href="#dt" transform="translate(892.5,462) rotate(180)"/>
<use href="#dt" transform="translate(885.5,526.5) rotate(60)"/>
<use href="#dt" transform="translate(969.5,534.5) rotate(200)"/>
<path d="M411.5,236.5L420,241.5L428.9,245.6L438,249.1L447.4,252.2L456.9,254.5L466.6,255.7L476.4,256.3L486.2,256.9L496.1,257.4L505.9,257.6L515.7,257.7L525.5,257.7L535.3,257.6L545.2,257.4L555,257L564.8,256.5L574.6,255.9L584.4,255.1L594.1,254.2L603.9,253.2L613.7,252.1L623.4,251.2L633.2,250.4L643,249.6L652.8,248.7L662.6,247.8L672.4,246.8L682.1,245.8L691.9,244.5L701.6,243.2L711.3,241.8L721,240.3L730.7,238.7L740.4,236.9L750,235.1L759.6,233.1L769.2,231.2L778.9,229.1L788.5,227.1L798,224.9L807.6,222.8L817.2,220.6L826.7,218.3L836.3,216L845.8,213.7L855.3,211.2L864.8,208.7L874.3,206L883.7,203.3L893.2,200.6L902.5,197.7L911.7,194.1L920.7,190.2L929.7,186.3L938.6,182.2L947.3,177.7L955.1,171.8L960.7,163.7L966,155.5L971,147L976.3,168.4L971.5,176.1L961.7,186.6L951.3,193L942.2,197.3L933.2,201.2L924.5,204.8L916.2,208.4L905.6,212.2L896.4,214.8L887.3,217.4L878.2,219.9L869,222.3L859.8,224.7L850.5,227L841.2,229.1L832.1,231.2L822.9,233.3L813.7,235.4L804.4,237.4L795.2,239.3L785.9,241.3L776.7,243.1L767.5,245L758.2,246.8L748.9,248.6L739.5,250.2L730.1,251.8L720.7,253.3L711.3,254.6L701.9,255.9L692.4,257.1L683,258.2L673.5,259.2L664.1,260.1L654.7,260.9L645.2,261.7L635.8,262.4L626.5,263.1L617.4,263.9L608.1,264.8L598.8,265.8L589.3,266.7L579.7,267.4L570.2,268L560.7,268.5L551.2,268.9L541.7,269.2L532.1,269.3L522.6,269.4L513.2,269.3L503.7,269.2L494.1,269L484.3,268.4L475.1,267.8L465.5,267.2L455.1,265.9L444.8,263.5L435.1,260.3L426,256.8L416.6,252.7Z" fill="#d0e6f7" opacity="0.45"/>
<path d="M411,237.4L419.4,242.3L428.3,246.4L437.4,250L446.7,253.1L456.2,255.4L466,256.7L475.7,257.3L485.4,257.9L495.1,258.5L504.9,258.7L514.6,258.8L524.3,258.8L534.1,258.8L543.8,258.6L553.5,258.3L563.3,257.9L573,257.3L582.7,256.6L592.4,255.8L602.1,254.8L611.8,253.8L621.4,252.9L631.1,252.1L640.8,251.4L650.5,250.6L660.2,249.8L669.9,248.9L679.6,247.9L689.3,246.8L698.9,245.6L708.6,244.3L718.2,242.9L727.9,241.4L737.5,239.8L747.1,238L756.6,236.2L766.2,234.3L775.7,232.4L785.3,230.5L794.8,228.5L804.3,226.4L813.8,224.3L823.3,222.2L832.8,220L842.3,217.8L851.8,215.6L861.3,213.2L870.7,210.7L880.1,208.1L889.5,205.5L898.9,202.9L908.5,199.9L917.5,196L926.5,192.2L935.5,188.4L944.5,184.2L953.5,179.1L961.5,171.3L966.8,162.9L972.3,154.6" fill="none" stroke="#fff" stroke-width="1.3" stroke-dasharray="4.5 2.2"/>
<path d="M416.6,252.7L426,256.8L435.1,260.3L444.8,263.5L455.1,265.9L465.5,267.2L475.1,267.8L484.3,268.4L494.1,269L503.7,269.2L513.2,269.3L522.6,269.4L532.1,269.3L541.7,269.2L551.2,268.9L560.7,268.5L570.2,268L579.7,267.4L589.3,266.7L598.8,265.8L608.1,264.8L617.4,263.9L626.5,263.1L635.8,262.4L645.2,261.7L654.7,260.9L664.1,260.1L673.5,259.2L683,258.2L692.4,257.1L701.9,255.9L711.3,254.6L720.7,253.3L730.1,251.8L739.5,250.2L748.9,248.6L758.2,246.8L767.5,245L776.7,243.1L785.9,241.3L795.2,239.3L804.4,237.4L813.7,235.4L822.9,233.3L832.1,231.2L841.2,229.1L850.5,227L859.8,224.7L869,222.3L878.2,219.9L887.3,217.4L896.4,214.8L905.6,212.2L916.2,208.4L924.5,204.8L933.2,201.2L942.2,197.3L951.3,193L961.7,186.6L971.5,176.1L976.3,168.4" fill="none" stroke="#fff" stroke-width="1.3" stroke-dasharray="4.5 2.2"/>
<path d="M406.5,255C402,280 399.5,320 400,345C400.5,358 402,368 404,377" fill="none" stroke="#6db0db" stroke-width="1.2" stroke-dasharray="5 3"/>
</g>
<path d="M417,239.6Q411.5,236.5 411.9,234.3L412.7,230.1A6.2 7.6 -24.6 0 1 423.9,225L422.7,240.6Q422.5,242.8 417,239.6M428.7,245.3Q422.5,242.8 422.7,240.6L423.9,225.1A6.1 7.8 11.3 0 1 435.8,227.5L435,245.7Q434.9,247.9 428.7,245.3M440.7,250Q434.9,247.9 435,245.7L435.8,227.1A5.7 7.4 11.1 0 1 447.1,229.3L446.6,249.8Q446.6,252 440.7,250M455.2,253.7Q446.6,252 446.6,249.8L447.1,229.8A8.4 7.9 6.8 0 1 463.8,231.8L463.8,253.3Q463.8,255.5 455.2,253.7M468,255.8Q463.8,255.5 463.8,253.3L463.8,229.4A4.1 5.4 3.4 0 1 472.1,229.9L472.1,253.8Q472.1,256 468,255.8M479.9,256.5Q472.1,256 472.1,253.8L472.1,232.3A7.9 7.9 2.3 0 1 487.8,232.9L487.8,254.8Q487.8,257 479.9,256.5M495.5,257.3Q487.8,257 487.8,254.8L487.8,232.9A7.7 7.9 1.7 0 1 503.2,233.4L503.2,255.3Q503.2,257.5 495.5,257.3M507.6,257.6Q503.2,257.5 503.2,255.3L503.2,231.4A4.5 5.8 0.8 0 1 512.1,231.5L512.1,255.4Q512.1,257.6 507.6,257.6M520.1,257.7Q512.1,257.6 512.1,255.4L512.1,233.5A8 7.9 -0.5 0 1 528.1,233.4L528.1,255.5Q528.1,257.7 520.1,257.7M535.1,257.6Q528.1,257.7 528.1,255.5L528.1,233.4A7 7.9 -2 0 1 542,232.9L542,255.2Q542,257.4 535.1,257.6M547.3,257.3Q542,257.4 542,255.2L542,231.9A5.3 6.9 -2.8 0 1 552.6,231.4L552.6,254.9Q552.6,257.1 547.3,257.3M560.4,256.7Q552.6,257.1 552.6,254.9L552.6,232.4A7.8 7.9 -3.8 0 1 568.3,231.3L568.3,254.1Q568.3,256.3 560.4,256.7M576.1,255.7Q568.3,256.3 568.3,254.1L568.3,231.3A7.8 7.9 -4 0 1 583.9,230.2L583.9,253Q583.9,255.2 576.1,255.7M590.2,254.6Q583.9,255.2 583.9,253L583.9,230.2A6.3 7.9 -3.5 0 1 596.5,229.5L596.5,251.8Q596.5,254 590.2,254.6M604.3,253.1Q596.5,254 596.5,251.8L596.5,229.5A7.8 7.9 -4.2 0 1 612.1,228.3L612.1,250.1Q612.1,252.3 604.3,253.1M617.6,251.8Q612.1,252.3 612.1,250.1L612.1,227.7A5.5 7.2 -5.5 0 1 623.1,226.6L623.1,249Q623.1,251.2 617.6,251.8M630.4,250.6Q623.1,251.2 623.1,249L623.1,227.3A7.3 7.9 -6 0 1 637.7,225.7L637.7,247.8Q637.7,250 630.4,250.6M644.4,249.5Q637.7,250 637.7,247.8L637.7,225.7A6.8 7.9 -5.6 0 1 651.2,224.4L651.2,246.7Q651.2,248.9 644.4,249.5M659.4,248.1Q651.2,248.9 651.2,246.7L651.2,224.4A8.2 7.9 -5.6 0 1 667.6,222.8L667.6,245.1Q667.6,247.3 659.4,248.1M675.8,246.4Q667.6,247.3 667.6,245.1L667.6,222.8A8.3 7.9 -6.2 0 1 684.1,221L684.1,243.3Q684.1,245.5 675.8,246.4M690.3,244.7Q684.1,245.5 684.1,243.3L684.1,221A6.3 7.9 -7.3 0 1 696.5,219.4L696.5,241.7Q696.5,243.9 690.3,244.7M704.1,242.8Q696.5,243.9 696.5,241.7L696.5,219.4A7.7 7.9 -8.2 0 1 711.7,217.2L711.7,239.5Q711.7,241.7 704.1,242.8M717.7,240.8Q711.7,241.7 711.7,239.5L711.7,217.2A6.1 7.9 -9.3 0 1 723.7,215.3L723.7,237.6Q723.7,239.8 717.7,240.8M731.7,238.4Q723.7,239.8 723.7,237.6L723.7,215.3A8.1 7.9 -9.7 0 1 739.8,212.5L739.8,234.8Q739.8,237 731.7,238.4M745.1,236Q739.8,237 739.8,234.8L739.8,211.7A5.4 7 -9.3 0 1 750.4,210L750.4,232.8Q750.4,235 745.1,236M757.9,233.5Q750.4,235 750.4,232.8L750.4,210.8A7.6 7.9 -9.4 0 1 765.4,208.3L765.4,229.7Q765.4,231.9 757.9,233.5M773.4,230.3Q765.4,231.9 765.4,229.7L765.4,208.3A8.1 7.9 -10.6 0 1 781.4,205.3L781.4,226.4Q781.4,228.6 773.4,230.3M788.4,227Q781.4,228.6 781.4,226.4L781.4,205.3A7.2 7.9 -11.5 0 1 795.5,202.5L795.5,223.3Q795.5,225.5 788.4,227M801.5,224.1Q795.5,225.5 795.5,223.3L795.5,202.5A6.2 7.9 -12.3 0 1 807.6,199.8L807.6,220.6Q807.6,222.8 801.5,224.1M813.5,221.4Q807.6,222.8 807.6,220.6L807.6,199.8A6.1 7.9 -13 0 1 819.4,197.1L819.4,217.8Q819.4,220 813.5,221.4M826.6,218.3Q819.4,220 819.4,217.8L819.4,197.1A7.4 7.9 -13.9 0 1 833.7,193.6L833.7,214.4Q833.7,216.6 826.6,218.3M840.2,215Q833.7,216.6 833.7,214.4L833.7,193.6A6.7 7.9 -15 0 1 846.7,190.1L846.7,211.3Q846.7,213.5 840.2,215M853.4,211.7Q846.7,213.5 846.7,211.3L846.7,190.1A7 7.9 -15.1 0 1 860.2,186.4L860.2,207.7Q860.2,209.9 853.4,211.7M868.1,207.7Q860.2,209.9 860.2,207.7L860.2,186.4A8.2 7.9 -14.4 0 1 876,182.4L876,203.3Q876,205.5 868.1,207.7M880.9,204.1Q876,205.5 876,203.3L876,181.1A5 6.5 -14.4 0 1 885.8,178.6L885.8,200.5Q885.8,202.7 880.9,204.1M893.9,200.3Q885.8,202.7 885.8,200.5L885.8,179.9A8.5 7.9 -15.5 0 1 902.1,175.4L902.1,195.7Q902.1,197.9 893.9,200.3M908.1,195.4Q902.1,197.9 902.1,195.7L902.1,175.4A6.5 7.9 -22.2 0 1 914.1,170.5L914.1,190.8Q914.1,193 908.1,195.4M918.1,191.3Q914.1,193 914.1,190.8L914.1,168.2A4.3 5.5 -28 0 1 921.6,164.2L922.1,187.3Q922.2,189.5 918.1,191.3M929.5,186.3Q922.2,189.5 922.1,187.3L921.7,166.5A7.5 7.9 -30.2 0 1 934.6,158.9L936.6,180.8Q936.8,183 929.5,186.3M943.6,179.3Q936.8,183 936.6,180.8L934.6,158.9A6.8 7.9 -27.7 0 1 946.8,152.6L950.1,173.5Q950.5,175.7 943.6,179.3M954.3,171.8Q950.5,175.7 950.1,173.5L946.5,151.2A5 6.4 -47.8 0 1 953.3,143.7L957.7,165.8Q958.1,168 954.3,171.8M964.6,157.5Q958.1,168 957.7,165.8L953.6,145.1A7.8 7.9 -36.5 0 1 966,135.9L970.1,145Q971,147 964.6,157.5" fill="#cfe5f6" stroke="#6db0db" stroke-width="2.4" stroke-linejoin="round" stroke-linecap="round"/>
<path d="M906.4,233.3Q927,229.5 948,219Q951.6,244 952.8,267.2Q932,279.5 909.1,283.1Z" fill="#7671c1" stroke="#655fb2" stroke-width="0.8" stroke-linejoin="round"/>
<path d="M727,210C724,202 717,198.5 711,202C702,208 695,240 694.5,275C694,305 706,338 717.5,366" fill="none" stroke="#cfdfec" stroke-width="9.6"/>
<path d="M727,210C724,202 717,198.5 711,202C702,208 695,240 694.5,275C694,305 706,338 717.5,366" fill="none" stroke="#fff" stroke-width="7.8"/>
<path d="M745,208C748,199 757,196 764,200C775,207 780,235 780,262C780,300 776.5,335 775.5,362" fill="none" stroke="#cfdfec" stroke-width="9.6"/>
<path d="M745,208C748,199 757,196 764,200C775,207 780,235 780,262C780,300 776.5,335 775.5,362" fill="none" stroke="#fff" stroke-width="7.8"/>
<ellipse cx="718.5" cy="370" rx="9" ry="5.3" transform="rotate(12 718.5 370)" fill="#fff" stroke="#c3d5e3" stroke-width="0.9"/>
<ellipse cx="776" cy="366" rx="9" ry="5.3" transform="rotate(4 776 366)" fill="#fff" stroke="#c3d5e3" stroke-width="0.9"/>
<path d="M731.7,238.4Q723.7,239.8 723.7,237.6L723.7,215.3A8.1 7.9 -9.7 0 1 739.8,212.5L739.8,234.8Q739.8,237 731.7,238.4M745.1,236Q739.8,237 739.8,234.8L739.8,211.7A5.4 7 -9.3 0 1 750.4,210L750.4,232.8Q750.4,235 745.1,236M757.9,233.5Q750.4,235 750.4,232.8L750.4,210.8A7.6 7.9 -9.4 0 1 765.4,208.3L765.4,229.7Q765.4,231.9 757.9,233.5" fill="#cfe5f6" stroke="#6db0db" stroke-width="2.4" stroke-linejoin="round" stroke-linecap="round"/>
<path d="M705,207C699,218 696,238 695,262" fill="none" stroke="#cfdfec" stroke-width="9.6"/>
<path d="M705,207C699,218 696,238 695,262" fill="none" stroke="#fff" stroke-width="7.8"/>
<path d="M772,208C777,220 780,240 780,262" fill="none" stroke="#cfdfec" stroke-width="9.6"/>
<path d="M772,208C777,220 780,240 780,262" fill="none" stroke="#fff" stroke-width="7.8"/>
<path d="M394,376L402,377.2L410,377.6L418.1,377.7L426.1,377.8L434.2,378.2L442.2,378.7L450.2,380.1L458,382L465.8,384.2L473.5,386.6L481.2,389L488.9,391.5L496.5,394L504.2,396.5L511.8,399.2L519.4,401.9L526.9,404.8L534.3,408L541.5,411.5L548.6,415.4L555.4,419.7L561.9,424.5L567.9,429.8L573.6,435.6L579,441.5L584.4,447.6L589.6,453.7L594.8,459.9L599.7,466.3L604.5,472.8L609,479.5L613.2,486.3L617.2,493.3L621.1,500.4L624.8,507.6L628.2,514.9L631.2,522.4L633.6,530.1L635,538L636,546L633,548L625.5,549.6L618,550.8L610.3,551L602.7,550.7L595.1,549.9L587.5,548.5L580.1,546.8L572.7,544.8L565.4,542.6L558.2,540.1L551.1,537.2L544.1,534.1L537.1,530.8L530.3,527.4L523.6,523.8L516.9,520L510.4,516L503.9,512L497.4,507.9L491,503.7L484.6,499.5L478.3,495.2L471.9,490.9L465.7,486.4L459.7,481.7L453.8,476.8L448.2,471.7L442.8,466.2L437.6,460.6L432.7,454.7L427.9,448.7L423.4,442.5L419.3,436.1L415.6,429.4L412.4,422.4L409.7,415.3L407.1,408.1L404.7,400.9L402.7,393.5L401,386Z" fill="#fff"/>
<g clip-path="url(#cl1)">
<rect x="390" y="370" width="260" height="190" fill="url(#sp3)"/>
<path d="M395,378L436,384C450,410 470,440 498,468C530,500 580,530 640,545L640,560L390,560Z" fill="#fff"/>
<path d="M395,378L436,384C450,410 470,440 498,468C530,500 580,530 640,545L640,560L390,560Z" fill="url(#circ)"/>
<path d="M432,382L470,396C505,430 560,478 634,534L632,548C585,532 530,500 498,468C470,440 448,408 432,382Z" fill="#deedf8"/>
<path d="M432,382L470,396C505,430 560,478 634,534L632,548C585,532 530,500 498,468C470,440 448,408 432,382Z" fill="url(#sp2)"/>
<path d="M469.5,395.5C505,430 560,478 636,536" fill="none" stroke="#5fa3c9" stroke-width="1.6"/>
</g>
<g fill="#cfe5f6" stroke="#6db0db" stroke-width="1.6"><rect x="-4.1" y="-4.7" width="8.3" height="9.4" rx="3.4" transform="translate(401.8,389.7) rotate(77.2)"/><rect x="-4.2" y="-5" width="8.5" height="10" rx="3.6" transform="translate(403.7,397.1) rotate(75.2)"/><rect x="-4.3" y="-5.2" width="8.7" height="10.5" rx="3.8" transform="translate(405.9,404.5) rotate(71.4)"/><rect x="-4.4" y="-5.4" width="8.9" height="10.8" rx="3.9" transform="translate(408.5,412.1) rotate(70.3)"/><rect x="-4.5" y="-5.6" width="9.1" height="11.1" rx="4" transform="translate(411.4,419.7) rotate(68.4)"/><rect x="-4.6" y="-5.7" width="9.2" height="11.4" rx="4.1" transform="translate(414.7,427.3) rotate(65)"/><rect x="-4.7" y="-5.8" width="9.4" height="11.6" rx="4.2" transform="translate(418.6,434.9) rotate(59.8)"/><rect x="-4.8" y="-5.9" width="9.6" height="11.8" rx="4.3" transform="translate(423.2,442.2) rotate(55.5)"/><rect x="-4.9" y="-6" width="9.7" height="12" rx="4.3" transform="translate(428.4,449.3) rotate(52.5)"/><rect x="-4.9" y="-6.1" width="9.9" height="12.1" rx="4.4" transform="translate(434,456.2) rotate(50.2)"/><rect x="-5" y="-6.1" width="10" height="12.3" rx="4.4" transform="translate(439.9,463) rotate(47.9)"/><rect x="-5.1" y="-6.2" width="10.1" height="12.4" rx="4.5" transform="translate(446.2,469.7) rotate(44.8)"/><rect x="-5.1" y="-6.2" width="10.2" height="12.5" rx="4.5" transform="translate(453,476) rotate(41.5)"/><rect x="-5.1" y="-6.3" width="10.3" height="12.6" rx="4.5" transform="translate(460.1,482) rotate(38.8)"/><rect x="-5.2" y="-6.3" width="10.4" height="12.6" rx="4.5" transform="translate(467.5,487.7) rotate(36.1)"/><rect x="-5.2" y="-6.3" width="10.4" height="12.7" rx="4.6" transform="translate(475.2,493.1) rotate(34.4)"/><rect x="-5.2" y="-6.3" width="10.4" height="12.7" rx="4.6" transform="translate(483.1,498.4) rotate(33.5)"/><rect x="-5.2" y="-6.3" width="10.4" height="12.7" rx="4.6" transform="translate(491,503.7) rotate(33.2)"/><rect x="-5.2" y="-6.3" width="10.4" height="12.7" rx="4.6" transform="translate(499,508.8) rotate(32.9)"/><rect x="-5.2" y="-6.3" width="10.4" height="12.7" rx="4.6" transform="translate(507,513.9) rotate(32)"/><rect x="-5.2" y="-6.3" width="10.4" height="12.6" rx="4.5" transform="translate(515,518.8) rotate(30.7)"/><rect x="-5.1" y="-6.3" width="10.3" height="12.6" rx="4.5" transform="translate(523.2,523.5) rotate(28.9)"/><rect x="-5.1" y="-6.2" width="10.2" height="12.5" rx="4.5" transform="translate(531.4,527.9) rotate(27.3)"/><rect x="-5.1" y="-6.2" width="10.1" height="12.4" rx="4.5" transform="translate(539.7,532) rotate(25.7)"/><rect x="-5" y="-6.1" width="10" height="12.3" rx="4.4" transform="translate(548,535.8) rotate(23.7)"/><rect x="-4.9" y="-6.1" width="9.9" height="12.1" rx="4.4" transform="translate(556.3,539.3) rotate(21.3)"/><rect x="-4.9" y="-6" width="9.7" height="12" rx="4.3" transform="translate(564.7,542.3) rotate(18.4)"/><rect x="-4.8" y="-5.9" width="9.6" height="11.8" rx="4.3" transform="translate(573.1,544.9) rotate(15.9)"/><rect x="-4.7" y="-5.8" width="9.4" height="11.6" rx="4.2" transform="translate(581.5,547.1) rotate(13.4)"/><rect x="-4.6" y="-5.7" width="9.2" height="11.4" rx="4.1" transform="translate(589.8,548.9) rotate(10.8)"/><rect x="-4.5" y="-5.6" width="9.1" height="11.1" rx="4" transform="translate(598,550.2) rotate(6.8)"/><rect x="-4.4" y="-5.4" width="8.9" height="10.8" rx="3.9" transform="translate(606.1,550.8) rotate(2.7)"/><rect x="-4.3" y="-5.2" width="8.7" height="10.5" rx="3.8" transform="translate(614.1,550.9) rotate(-1.6)"/><rect x="-4.2" y="-5" width="8.5" height="10" rx="3.6" transform="translate(621.8,550.2) rotate(-9)"/><rect x="-4.1" y="-4.7" width="8.3" height="9.4" rx="3.4" transform="translate(629.3,548.8) rotate(-12.3)"/></g>
<g fill="#cfe5f6" stroke="#6db0db" stroke-width="1.7"><rect x="-4.9" y="-5.9" width="9.9" height="11.8" rx="4.2" transform="translate(398.4,376.6) rotate(8.1)"/><rect x="-5.1" y="-6.3" width="10.1" height="12.6" rx="4.5" transform="translate(407.5,377.5) rotate(2.5)"/><rect x="-5.2" y="-6.5" width="10.4" height="13.1" rx="4.7" transform="translate(416.8,377.7) rotate(0.4)"/><rect x="-5.3" y="-6.7" width="10.7" height="13.5" rx="4.8" transform="translate(426.4,377.9) rotate(2.1)"/><rect x="-5.5" y="-6.9" width="10.9" height="13.8" rx="5" transform="translate(436.2,378.4) rotate(3.2)"/><rect x="-5.6" y="-7" width="11.1" height="14" rx="5" transform="translate(446.1,379.5) rotate(9.5)"/><rect x="-5.7" y="-7.1" width="11.4" height="14.2" rx="5.1" transform="translate(456.1,381.6) rotate(14.5)"/><rect x="-5.8" y="-7.2" width="11.6" height="14.4" rx="5.2" transform="translate(466.2,384.4) rotate(16.4)"/><rect x="-5.9" y="-7.3" width="11.8" height="14.5" rx="5.2" transform="translate(476.3,387.5) rotate(17.4)"/><rect x="-6" y="-7.3" width="11.9" height="14.7" rx="5.3" transform="translate(486.6,390.7) rotate(18.1)"/><rect x="-6" y="-7.4" width="12.1" height="14.8" rx="5.3" transform="translate(497,394.2) rotate(18.4)"/><rect x="-6.1" y="-7.4" width="12.2" height="14.9" rx="5.3" transform="translate(507.4,397.7) rotate(18.9)"/><rect x="-6.1" y="-7.5" width="12.3" height="14.9" rx="5.4" transform="translate(517.9,401.4) rotate(20.2)"/><rect x="-6.2" y="-7.5" width="12.4" height="15" rx="5.4" transform="translate(528.4,405.5) rotate(22.8)"/><rect x="-6.2" y="-7.5" width="12.4" height="15" rx="5.4" transform="translate(538.6,410.2) rotate(25.9)"/><rect x="-6.2" y="-7.5" width="12.4" height="15" rx="5.4" transform="translate(548.6,415.5) rotate(30.4)"/><rect x="-6.2" y="-7.5" width="12.4" height="15" rx="5.4" transform="translate(558,421.7) rotate(36.3)"/><rect x="-6.2" y="-7.5" width="12.4" height="15" rx="5.4" transform="translate(566.7,428.8) rotate(42.7)"/><rect x="-6.1" y="-7.5" width="12.3" height="14.9" rx="5.4" transform="translate(574.6,436.7) rotate(47)"/><rect x="-6.1" y="-7.4" width="12.2" height="14.9" rx="5.3" transform="translate(582.1,445) rotate(48.6)"/><rect x="-6" y="-7.4" width="12.1" height="14.8" rx="5.3" transform="translate(589.3,453.3) rotate(49.9)"/><rect x="-6" y="-7.3" width="11.9" height="14.7" rx="5.3" transform="translate(596.2,461.8) rotate(51.7)"/><rect x="-5.9" y="-7.3" width="11.8" height="14.5" rx="5.2" transform="translate(602.7,470.4) rotate(54.1)"/><rect x="-5.8" y="-7.2" width="11.6" height="14.4" rx="5.2" transform="translate(608.7,479.2) rotate(57.2)"/><rect x="-5.7" y="-7.1" width="11.4" height="14.2" rx="5.1" transform="translate(614.1,488) rotate(59.6)"/><rect x="-5.6" y="-7" width="11.2" height="14" rx="5" transform="translate(619.2,497) rotate(61.4)"/><rect x="-5.5" y="-6.9" width="10.9" height="13.8" rx="5" transform="translate(623.9,505.8) rotate(63.1)"/><rect x="-5.3" y="-6.7" width="10.7" height="13.5" rx="4.8" transform="translate(628,514.7) rotate(66.5)"/><rect x="-5.2" y="-6.5" width="10.4" height="13.1" rx="4.7" transform="translate(631.5,523.6) rotate(71.1)"/><rect x="-5.1" y="-6.3" width="10.1" height="12.6" rx="4.5" transform="translate(634,532.6) rotate(78.3)"/><rect x="-4.9" y="-5.9" width="9.9" height="11.8" rx="4.2" transform="translate(635.4,541.6) rotate(82.9)"/></g>
<g fill="#cfe5f6" stroke="#6db0db" stroke-width="1.6"><rect x="-4" y="-4.5" width="7.9" height="9.1" rx="3.3" transform="translate(978.8,302.3) rotate(109.5)"/><rect x="-4.2" y="-5.1" width="8.4" height="10.3" rx="3.7" transform="translate(976.3,309.2) rotate(110.7)"/><rect x="-4.4" y="-5.6" width="8.8" height="11.3" rx="4" transform="translate(973.4,316.3) rotate(113.6)"/><rect x="-4.6" y="-6" width="9.2" height="12.1" rx="4.2" transform="translate(969.9,323.5) rotate(118.2)"/><rect x="-4.8" y="-6.4" width="9.6" height="12.8" rx="4.4" transform="translate(965.8,330.8) rotate(119.9)"/><rect x="-5" y="-6.7" width="10" height="13.5" rx="4.6" transform="translate(961.4,338.4) rotate(121.3)"/><rect x="-5.2" y="-7" width="10.4" height="14" rx="4.8" transform="translate(956.5,346.1) rotate(122.9)"/><rect x="-5.3" y="-7.3" width="10.7" height="14.5" rx="4.9" transform="translate(951.2,353.9) rotate(125.5)"/><rect x="-5.5" y="-7.5" width="11" height="14.9" rx="5" transform="translate(945.5,361.6) rotate(127.6)"/><rect x="-5.6" y="-7.6" width="11.2" height="15.3" rx="5.2" transform="translate(939.4,369.5) rotate(128.3)"/><rect x="-5.7" y="-7.8" width="11.4" height="15.6" rx="5.2" transform="translate(933.1,377.4) rotate(128)"/><rect x="-5.8" y="-7.9" width="11.6" height="15.8" rx="5.3" transform="translate(926.8,385.5) rotate(128.2)"/><rect x="-5.8" y="-8" width="11.7" height="15.9" rx="5.4" transform="translate(920.3,393.6) rotate(128.9)"/><rect x="-5.9" y="-8" width="11.7" height="16" rx="5.4" transform="translate(913.7,401.6) rotate(130.2)"/><rect x="-5.9" y="-8" width="11.7" height="16" rx="5.4" transform="translate(906.8,409.5) rotate(132.4)"/><rect x="-5.8" y="-8" width="11.7" height="15.9" rx="5.4" transform="translate(899.7,417.1) rotate(132.8)"/><rect x="-5.8" y="-7.9" width="11.6" height="15.8" rx="5.3" transform="translate(892.8,424.9) rotate(130.9)"/><rect x="-5.7" y="-7.8" width="11.4" height="15.6" rx="5.2" transform="translate(886.3,432.8) rotate(128.5)"/><rect x="-5.6" y="-7.6" width="11.2" height="15.3" rx="5.2" transform="translate(880.1,440.8) rotate(127)"/><rect x="-5.5" y="-7.5" width="11" height="14.9" rx="5" transform="translate(874.2,448.7) rotate(125.8)"/><rect x="-5.3" y="-7.3" width="10.7" height="14.5" rx="4.9" transform="translate(868.6,456.6) rotate(124.9)"/><rect x="-5.2" y="-7" width="10.4" height="14" rx="4.8" transform="translate(863.4,464.4) rotate(123.1)"/><rect x="-5" y="-6.7" width="10" height="13.5" rx="4.6" transform="translate(858.6,472.2) rotate(119.8)"/><rect x="-4.8" y="-6.4" width="9.6" height="12.8" rx="4.4" transform="translate(854.5,479.9) rotate(116.5)"/><rect x="-4.6" y="-6" width="9.2" height="12.1" rx="4.2" transform="translate(850.9,487.5) rotate(113.5)"/><rect x="-4.4" y="-5.6" width="8.8" height="11.3" rx="4" transform="translate(848,495) rotate(109.3)"/><rect x="-4.2" y="-5.1" width="8.4" height="10.3" rx="3.7" transform="translate(845.9,502.4) rotate(102.1)"/><rect x="-4" y="-4.5" width="7.9" height="9.1" rx="3.3" transform="translate(844.6,509.5) rotate(99)"/></g>
<circle cx="559" cy="477.5" r="43.3" fill="none" stroke="#6e64b7" stroke-width="7.6"/>
<g fill="none" stroke="#4a3f88" stroke-width="1.6">
<path d="M290,111V190Q290,215.5 316,215.5H458"/>
<path d="M348.5,316.5H471"/>
<path d="M358.5,480H419"/>
<path d="M521,77.5C492,87 466,100 443,116"/>
<path d="M778,27.5C806,23 836,22.5 866,25"/>
<path d="M1236.5,105V184Q1236.5,209 1211,209H1066"/>
<path d="M1066,352.5H857"/>
<path d="M1086,498.5H881"/>
<path d="M761.5,650V558"/>
<path d="M453,705H532Q557.5,705 557.5,680V521"/>
</g>
<polygon points="0,0 -11.5,-7.2 -11.5,7.2" fill="#5f52a9" transform="translate(468,215.5) rotate(0)"/>
<polygon points="0,0 -11.5,-7.2 -11.5,7.2" fill="#5f52a9" transform="translate(481.5,316.5) rotate(0)"/>
<polygon points="0,0 -11.5,-7.2 -11.5,7.2" fill="#5f52a9" transform="translate(430,480) rotate(0)"/>
<polygon points="0,0 -12,-7 -12,7" fill="#5f52a9" transform="translate(434.5,122) rotate(144)"/>
<polygon points="0,0 -12,-7 -12,7" fill="#5f52a9" transform="translate(876,25.5) rotate(4)"/>
<polygon points="0,0 -11.5,-7.2 -11.5,7.2" fill="#5f52a9" transform="translate(846,352.5) rotate(180)"/>
<polygon points="0,0 -11.5,-7.2 -11.5,7.2" fill="#5f52a9" transform="translate(870,498.5) rotate(180)"/>
<polygon points="0,0 -11.5,-7.2 -11.5,7.2" fill="#5f52a9" transform="translate(761.5,547) rotate(-90)"/>
<path d="M1056.6,255.5C1060,232 1062.5,200 1058.8,163" fill="none" stroke="#81c1e9" stroke-width="10.4" stroke-linecap="round"/>
<path d="M1055.3,146.5L1075.8,161L1041,166.3Z" fill="#81c1e9" stroke="#81c1e9" stroke-width="1.6" stroke-linejoin="round"/>
<g fill="none" stroke-linecap="round" stroke-linejoin="round">
<circle cx="191" cy="64" r="30.6" stroke="#5fa7c6" stroke-width="1.5"/>
<path d="M190,80C187,70 180.5,62 181,54.5C181.5,48.5 185.5,45.5 190.5,45.5C195.5,45.5 199,49.5 198.5,55.5C198,63 192.5,70.5 190,80Z" stroke="#7da6b9" stroke-width="1.1"/>
<path d="M185.5,82C181,81 175,78.5 174.5,74.5C174,70.5 179,70 181.5,73C184,76 185,79 185.5,82Z" stroke="#7da6b9" stroke-width="1.1"/>
<path d="M195.5,82C200,81.5 206.5,79 207.5,75C208.5,71 203.5,70 200.5,73C198,75.5 196.5,79 195.5,82Z" stroke="#7da6b9" stroke-width="1.1"/>
<circle cx="48.7" cy="317" r="31" stroke="#d98c70" stroke-width="1.5"/>
<path d="M31,306.5C43,305.5 55,305.5 67,306.5C69.5,306.7 70.2,308 70.1,310L69.8,316C69.7,318 69,319 67,319.3C62,320.3 58.5,324 57.7,330C57.5,332 56.5,333 54.5,333H43.5C41.5,333 40.5,332 40.3,330C39.5,324 36,320.3 31,319.3C29,319 28.3,318 28.2,316L27.9,310C27.8,308 28.5,306.7 31,306.5Z" stroke="#dca095" stroke-width="1.1"/>
<circle cx="1113.5" cy="352.3" r="31.3" stroke="#8f89c0" stroke-width="1.5"/>
<path d="M1100,354.5L1087.5,360L1114,372L1139,360L1127,354.5" stroke="#8f89c0" stroke-width="1.1"/>
<path d="M1104,346.5C1098,346 1096,338.5 1102,336.5C1101,331 1108,328.5 1111,332.5C1114,328.5 1121.5,330.5 1120.5,336C1127,336.5 1128,344.5 1122.5,346.5C1126.5,351.5 1121,357.5 1116,354.5C1113.5,360 1106,359 1105.5,354C1100,356 1099,349 1104,346.5Z" fill="#fff" stroke="#8f89c0" stroke-width="0.98" transform="translate(1113.6,347.6) scale(1.13) translate(-1111.6,-344.3)"/>
<circle cx="1133" cy="498.5" r="31" stroke="#8f89c0" stroke-width="1.5"/>
<path d="M1152,507C1146,507.5 1142,506 1138,503M1138,503C1133,499.5 1128.5,495.5 1126,491.5" stroke="#8f89c0" stroke-width="1.1"/>
<path d="M1124.5,505.5C1119,499 1115.5,490.5 1118.5,485.5C1121.5,481 1128,484 1133,489C1139,494.5 1144.5,499.5 1145.5,505C1146.5,510.5 1140,512.5 1135.5,510L1134,508L1131,510L1129.5,507.5L1127,509L1126.5,506Z" stroke="#8f89c0" stroke-width="1.1"/>
<circle cx="763.7" cy="696.3" r="31" stroke="#8f89c0" stroke-width="1.5"/>
<path d="M738,698C748,691 757,692 765,695.5C773,699 781,700 789.5,696M738,704C748,697 757,698 765,701.5C773,705 781,706 789.5,702" stroke="#8f89c0" stroke-width="1.5"/>
<path d="M759.7,679V690M757.2,681.5L759.7,678.8L762.2,681.5M759.7,703V712.5M767.5,683.5V694M767.5,707V716.5M765,714.2L767.5,717L770,714.2" stroke="#8f89c0" stroke-width="1"/>
</g>
<text x="239.5" y="58.5" font-size="23.2" fill="#28282c" textLength="83" lengthAdjust="spacingAndGlyphs" stroke="#fff" stroke-width="0.32">SPLASH</text>
<text x="239.5" y="86.5" font-size="23.2" fill="#28282c" textLength="123.5" lengthAdjust="spacingAndGlyphs" stroke="#fff" stroke-width="0.32">APPROVED</text>
<text x="91" y="325" font-size="23.2" fill="#28282c" textLength="235.5" lengthAdjust="spacingAndGlyphs" stroke="#fff" stroke-width="0.32">UNDERWEAR LIKE FIT</text>
<text x="24" y="489.5" font-size="23.2" fill="#28282c" textLength="317.5" lengthAdjust="spacingAndGlyphs" stroke="#fff" stroke-width="0.32">CONTAINMENT-PROOF LEGS</text>
<text x="24" y="517.5" font-size="20.5" fill="#28282c" textLength="225" lengthAdjust="spacingAndGlyphs" stroke="#fff" stroke-width="0.32">for containment of solids</text>
<text x="1156.5" y="89" font-size="23.2" fill="#28282c" textLength="159" lengthAdjust="spacingAndGlyphs" stroke="#fff" stroke-width="0.32">PULL-UP STYLE</text>
<text x="1162.5" y="344" font-size="23.2" fill="#28282c" textLength="133" lengthAdjust="spacingAndGlyphs" stroke="#fff" stroke-width="0.32">SUPER SOFT</text>
<text x="1162.5" y="372.5" font-size="23.2" fill="#28282c" textLength="102" lengthAdjust="spacingAndGlyphs" stroke="#fff" stroke-width="0.32">SURFACE</text>
<text x="1178.5" y="509" font-size="23.2" fill="#28282c" textLength="150.5" lengthAdjust="spacingAndGlyphs" stroke="#fff" stroke-width="0.32">LIGHTWEIGHT</text>
<text x="698" y="760" font-size="23.2" fill="#28282c" textLength="141" lengthAdjust="spacingAndGlyphs" stroke="#fff" stroke-width="0.32">BREATHABLE</text>
<g transform="translate(544.5,53) rotate(-9.4)"><text x="0" y="0" font-size="23.2" fill="#28282c" textLength="205" lengthAdjust="spacingAndGlyphs" stroke="#fff" stroke-width="0.32">ADJUSTABLE WAIST</text><text x="-7" y="28.3" font-size="20.5" fill="#28282c" textLength="224.5" lengthAdjust="spacingAndGlyphs" stroke="#fff" stroke-width="0.32">for containment of solids</text></g>
<rect x="6" y="593.5" width="447" height="260.5" rx="56" fill="none" stroke="#4f4490" stroke-width="1.6"/>
<text x="50" y="650" font-size="23.2" fill="#28282c" textLength="167.5" lengthAdjust="spacingAndGlyphs" stroke="#fff" stroke-width="0.32">FABRIC LAYERS</text>
<path d="M34.5,748C34,743.4 40.1,742.3 46,740.5C51.9,738.7 57.7,736.2 70,737C82.3,737.8 101.7,739.8 120,745C138.3,750.2 162.3,763.2 180,768C197.7,772.8 211.6,771.8 226,774C240.4,776.2 260,778.5 266.5,781C273,783.5 269.4,786.2 265,789C260.6,791.8 251.5,793.4 240,797.5C228.5,801.6 209.2,810.1 196,813.5C182.8,816.9 173.2,818.8 161,818C148.8,817.2 136.7,813.4 123,809C109.3,804.6 91.3,798.3 79,791.5C66.7,784.7 56.4,775.2 49,768C41.6,760.8 35,752.6 34.5,748Z" fill="#fff" stroke="#d5e1ea" stroke-width="1.2"/>
<path d="M34.5,748C34,743.4 40.1,742.3 46,740.5C51.9,738.7 57.7,736.2 70,737C82.3,737.8 101.7,739.8 120,745C138.3,750.2 162.3,763.2 180,768C197.7,772.8 211.6,771.8 226,774C240.4,776.2 260,778.5 266.5,781C273,783.5 269.4,786.2 265,789C260.6,791.8 251.5,793.4 240,797.5C228.5,801.6 209.2,810.1 196,813.5C182.8,816.9 173.2,818.8 161,818C148.8,817.2 136.7,813.4 123,809C109.3,804.6 91.3,798.3 79,791.5C66.7,784.7 56.4,775.2 49,768C41.6,760.8 35,752.6 34.5,748Z" fill="url(#circ2)"/>
<path d="M42,709.5C43,703.7 52.7,703.1 64,700.5C75.3,697.9 94,696 110,694C126,692 149.3,688.8 160,688.3C170.7,687.8 168,687 174,691C180,695 187.5,705.5 196,712C204.5,718.5 213.2,725.1 225,730C236.8,734.9 260,737.3 266.5,741.5C273,745.7 270.9,750.6 264,755C257.1,759.4 240.3,764.6 225,768C209.7,771.4 186.7,774.2 172,775.5C157.3,776.8 150.2,778.2 137,775.5C123.8,772.8 106.2,765.7 93,759C79.8,752.3 66.5,743.8 58,735.5C49.5,727.2 41,715.3 42,709.5Z" fill="#dbecf8"/>
<path d="M42,709.5C43,703.7 52.7,703.1 64,700.5C75.3,697.9 94,696 110,694C126,692 149.3,688.8 160,688.3C170.7,687.8 168,687 174,691C180,695 187.5,705.5 196,712C204.5,718.5 213.2,725.1 225,730C236.8,734.9 260,737.3 266.5,741.5C273,745.7 270.9,750.6 264,755C257.1,759.4 240.3,764.6 225,768C209.7,771.4 186.7,774.2 172,775.5C157.3,776.8 150.2,778.2 137,775.5C123.8,772.8 106.2,765.7 93,759C79.8,752.3 66.5,743.8 58,735.5C49.5,727.2 41,715.3 42,709.5Z" fill="url(#sp4)"/>
<circle cx="279.5" cy="748" r="13.6" fill="#fff" stroke="#8f89c0" stroke-width="1.3"/>
<text x="279.5" y="754.2" font-size="17.5" fill="#8f89c0" text-anchor="middle" textLength="7.5" lengthAdjust="spacingAndGlyphs">1</text>
<circle cx="279.5" cy="784" r="13.6" fill="#fff" stroke="#8f89c0" stroke-width="1.3"/>
<text x="279.5" y="790.2" font-size="17.5" fill="#8f89c0" text-anchor="middle" textLength="7.5" lengthAdjust="spacingAndGlyphs">2</text>
<text x="307" y="751.5" font-size="15.5" fill="#333" textLength="95.5" lengthAdjust="spacingAndGlyphs">Super soft layer</text>
<text x="307" y="788.5" font-size="15.5" fill="#333" textLength="125.5" lengthAdjust="spacingAndGlyphs">Water resistant layer</text>
<rect x="949" y="615" width="544" height="249" rx="62" fill="none" stroke="#4f4490" stroke-width="1.6"/>
<path d="M1114.5,640V799M1180.5,640V799M1247,640V799M1314,640V799M1381,640V799M981.5,682.5H1456.5M1114.5,742H1456.5" fill="none" stroke="#dadadf" stroke-width="1.1"/>
<text x="1213.5" y="668.5" font-size="17.5" fill="#33287a" stroke="#33287a" stroke-width="0.3" text-anchor="middle" textLength="9.5" lengthAdjust="spacingAndGlyphs">S</text>
<text x="1280" y="668.5" font-size="17.5" fill="#33287a" stroke="#33287a" stroke-width="0.3" text-anchor="middle" textLength="14" lengthAdjust="spacingAndGlyphs">M</text>
<text x="1346.5" y="668.5" font-size="17.5" fill="#33287a" stroke="#33287a" stroke-width="0.3" text-anchor="middle" textLength="8" lengthAdjust="spacingAndGlyphs">L</text>
<text x="1418.5" y="668.5" font-size="17.5" fill="#33287a" stroke="#33287a" stroke-width="0.3" text-anchor="middle" textLength="20" lengthAdjust="spacingAndGlyphs">XL</text>
<text x="1146.5" y="717.5" font-size="17.5" fill="#33287a" stroke="#33287a" stroke-width="0.3" text-anchor="middle" textLength="24" lengthAdjust="spacingAndGlyphs">kgs</text>
<text x="1146.5" y="778.5" font-size="17.5" fill="#33287a" stroke="#33287a" stroke-width="0.3" text-anchor="middle" textLength="19" lengthAdjust="spacingAndGlyphs">lbs</text>
<text x="1213.5" y="719" font-size="20.5" fill="#6eabd2" text-anchor="middle" textLength="29" lengthAdjust="spacingAndGlyphs">5-7</text>
<text x="1213.5" y="780" font-size="20.5" fill="#6eabd2" text-anchor="middle" textLength="42" lengthAdjust="spacingAndGlyphs">11-16</text>
<text x="1280" y="719" font-size="20.5" fill="#6eabd2" text-anchor="middle" textLength="29" lengthAdjust="spacingAndGlyphs">7-9</text>
<text x="1280" y="780" font-size="20.5" fill="#6eabd2" text-anchor="middle" textLength="44" lengthAdjust="spacingAndGlyphs">16-21</text>
<text x="1347" y="719" font-size="20.5" fill="#6eabd2" text-anchor="middle" textLength="38" lengthAdjust="spacingAndGlyphs">9-12</text>
<text x="1347" y="780" font-size="20.5" fill="#6eabd2" text-anchor="middle" textLength="46" lengthAdjust="spacingAndGlyphs">21-27</text>
<text x="1420" y="719" font-size="20.5" fill="#6eabd2" text-anchor="middle" textLength="45" lengthAdjust="spacingAndGlyphs">12-15</text>
<text x="1420" y="780" font-size="20.5" fill="#6eabd2" text-anchor="middle" textLength="52" lengthAdjust="spacingAndGlyphs">27-34</text>
<text x="1004" y="782" font-size="15" fill="#79aecb" textLength="88.5" lengthAdjust="spacingAndGlyphs">SWIM NAPPY</text>
<text x="982.5" y="827.5" font-size="14.5" fill="#222" textLength="166" lengthAdjust="spacingAndGlyphs">size ranges are approximate</text>
<path d="M1007,727C1005.5,740 1012,751 1026,756.5L1036,759L1020,733ZM1089.5,727C1091,740 1084.5,751 1070.5,756.5L1060.5,759L1076.5,733Z" fill="#8fc4e9"/>
<path d="M1001,704H1095.5V718C1095.5,724 1092.5,727 1088,730C1078,737 1073,747 1069.5,755C1067,760 1060,762 1048.3,762C1036.5,762 1029.5,760 1027,755C1023.5,747 1018.5,737 1008.5,730C1004,727 1001,724 1001,718Z" fill="#c6e1f4"/>
<rect x="1000.5" y="700" width="95.5" height="6.6" rx="3" fill="#93caeb"/>
<path d="M1035.5,700.5C1036,709 1037.5,718 1040,725.5M1043,700.5C1043.3,708 1042.5,715 1041.3,721" fill="none" stroke="#fff" stroke-width="1.3" stroke-linecap="round"/>
<rect x="1078.5" y="710.8" width="9.8" height="10.8" fill="#6f60ba"/>
</svg>
</body></html>
